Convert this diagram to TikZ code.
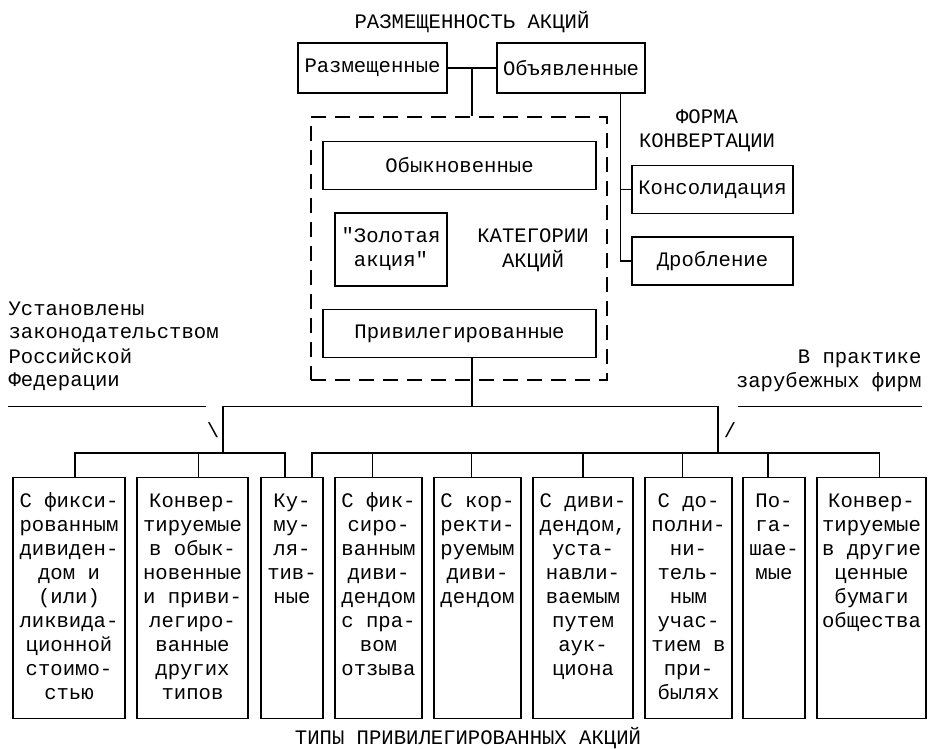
\documentclass[tikz,border=0pt]{standalone}
\usepackage{fontspec}
\setmainfont{Liberation Mono}[Ligatures=TeXOff]
\usetikzlibrary{calc}
\newcommand\cellrows[2][c]{\begin{tabular}[t]{@{}#1@{}}#2\end{tabular}}

\begin{document}
\begin{tikzpicture}[x=1pt, y=-1pt, line width=1.1pt,
  every node/.style={font=\fontsize{20.6}{24}\selectfont, inner sep=0pt},
  box/.style={draw, minimum height=48pt, align=center},
  cell/.style={draw, anchor=north, text height=30pt, text depth=211pt},
  catbox/.style={draw, dash pattern=on 15pt off 9pt}]
  \useasboundingbox (0,0) rectangle (930,749);
  \node (title) at (472,22) {РАЗМЕЩЕННОСТЬ АКЦИЙ};
  \node[box, minimum width=149pt, minimum height=50pt] (razm) at (372.5,68) {Размещенные};
  \node[box, minimum width=148pt, minimum height=50pt] (obyav) at (571,68) {Объявленные};
  \node[catbox, minimum width=296pt, minimum height=263pt] (cat) at (459,248.5) {};
  \node[box, minimum width=273pt] (obykn) at (459.5,165.5) {Обыкновенные};
  \node[box, minimum width=112pt, minimum height=73pt] (zolot) at (391,249.5) {"Золотая\\акция"};
  \node[anchor=base] (catname) at (533,243) {\cellrows{КАТЕГОРИИ\\АКЦИЙ}};
  \node[box, minimum width=273pt] (privil) at (459.5,333.5) {Привилегированные};
  \node[anchor=base] (form) at (707,124) {\cellrows{ФОРМА\\КОНВЕРТАЦИИ}};
  \node[box, minimum width=161pt] (konsol) at (712.5,189.5) {Консолидация};
  \node[box, minimum width=161pt] (drob) at (712.5,261) {Дробление};
  \node[anchor=base west] (law) at (8,315) {\cellrows[l]{Установлены\\законодательством\\Российской\\Федерации}};
  \node[anchor=base east] (abroad) at (922,363) {\cellrows[r]{В практике\\зарубежных фирм}};
  \node (lmark) at (213,430) {\textbackslash};
  \node (rmark) at (730,430) {/};
  \node[cell, minimum width=112pt] (b1) at (69,477) {\cellrows{С фикси-\\рованным\\дивиден-\\дом и\\(или)\\ликвида-\\ционной\\стоимо-\\стью}};
  \node[cell, minimum width=111pt] (b2) at (192.5,477) {\cellrows{Конвер-\\тируемые\\в обык-\\новенные\\и приви-\\легиро-\\ванные\\других\\типов}};
  \node[cell, minimum width=62pt] (b3) at (292,477) {\cellrows{Ку-\\му-\\ля-\\тив-\\ные}};
  \node[cell, minimum width=87pt] (b4) at (378.5,477) {\cellrows{С фик-\\сиро-\\ванным\\диви-\\дендом\\с пра-\\вом\\отзыва}};
  \node[cell, minimum width=87pt] (b5) at (477.5,477) {\cellrows{С кор-\\ректи-\\руемым\\диви-\\дендом}};
  \node[cell, minimum width=100pt] (b6) at (583,477) {\cellrows{С диви-\\дендом,\\уста-\\навли-\\ваемым\\путем\\аук-\\циона}};
  \node[cell, minimum width=87pt] (b7) at (688.5,477) {\cellrows{С до-\\полни-\\ни-\\тель-\\ным\\учас-\\тием в\\при-\\былях}};
  \node[cell, minimum width=62pt] (b8) at (774,477) {\cellrows{По-\\га-\\шае-\\мые}};
  \node[cell, minimum width=109pt] (b9) at (871.5,477) {\cellrows{Конвер-\\тируемые\\в другие\\ценные\\бумаги\\общества}};
  \node (types) at (468,738) {ТИПЫ ПРИВИЛЕГИРОВАННЫХ АКЦИЙ};
  \coordinate (top) at ($(razm.east)!0.5!(obyav.west)$);
  \draw (razm) -- (obyav);
  \draw (top) -- (top |- cat.north);
  \coordinate (fk) at ([xshift=-25pt]obyav.south east);
  \draw (fk) |- (drob.west);
  \draw (konsol.west) -- (konsol.west -| fk);
  \coordinate (hub) at ($(privil.south -| top)+(0,48)$);
  \coordinate (lhub) at ($(hub)+(-249,0)$);
  \coordinate (rhub) at ($(hub)+(246,0)$);
  \draw (privil.south -| top) -- (hub);
  \draw (lhub) -- (rhub);
  \draw (lhub) -- ++(0,48);
  \draw (rhub) -- ++(0,48);
  \draw (law.west |- hub) -- ++(198,0);
  \draw (abroad.east |- hub) -- ++(-184,0);
  \draw ([xshift=6pt]b1.north) -- ++(0,-24) -| ([xshift=-7pt]b3.north);
  \draw ([xshift=6pt]b2.north) -- ++(0,-24);
  \draw ([xshift=20pt]b3.north) -- ++(0,-24) -| ([xshift=8pt]b9.north);
  \foreach \b/\s in {b4/-6,b5/-6,b6/0,b7/-6,b8/-6}
    \draw ([xshift=\s pt]\b.north) -- ++(0,-24);
\end{tikzpicture}
\end{document}
